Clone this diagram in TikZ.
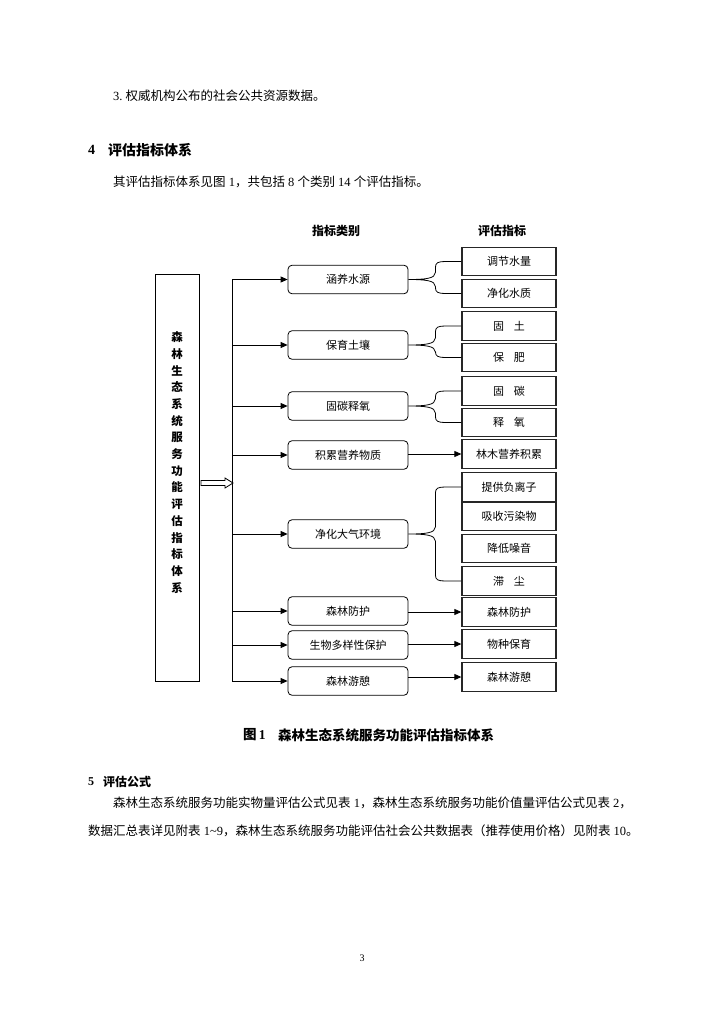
\documentclass[tikz,border=0pt]{standalone}
\usepackage{fontspec}
\setmainfont{Liberation Serif}
\newfontfamily\cjk{Noto Sans CJK SC}
\usetikzlibrary{arrows.meta,calc}
\newcommand\zh[1]{{\cjk #1}}
\newcommand\mybrace[3]{%
  \draw[line width=0.8pt] let \p1=(#1.east), \p2=(#2.west), \p3=(#3.west) in
    (\p1) .. controls (\x1+17,\y1) and (\x1+27,\y1+1) .. (\x1+27,\y1+7)
      -- (\x1+27,\y2-6) .. controls (\x1+27,\y2-1) and (\x1+30,\y2) .. (\x1+37,\y2) -- (\p2)
    (\p1) .. controls (\x1+17,\y1) and (\x1+27,\y1-1) .. (\x1+27,\y1-7)
      -- (\x1+27,\y3+6) .. controls (\x1+27,\y3+1) and (\x1+30,\y3) .. (\x1+37,\y3) -- (\p3);}
\begin{document}
\begin{tikzpicture}[x=1pt,y=-1pt,
  txt/.style={anchor=west, inner sep=0, font=\fontsize{12.5}{15}\selectfont},
  hd/.style={anchor=west, inner sep=0, font=\bfseries\fontsize{14}{16}\selectfont},
  hdb/.style={anchor=west, inner sep=0, font=\bfseries\fontsize{12}{14}\selectfont},
  capt/.style={anchor=west, inner sep=0, font=\bfseries\fontsize{13.5}{15}\selectfont},
  cat/.style={draw, rounded corners=4pt, minimum width=120pt, minimum height=28.5pt, inner sep=0, line width=0.8pt, font=\cjk\fontsize{11}{12}\selectfont},
  ind/.style={draw=black!85, line width=1.3pt, minimum width=94pt, minimum height=28.5pt, inner sep=0, font=\cjk\fontsize{11}{12}\selectfont},
  colhead/.style={inner sep=0, font=\cjk\bfseries\fontsize{12}{14}\selectfont},
  arr/.style={-{Triangle[length=7pt,width=6pt]}, line width=0.8pt}]
\useasboundingbox (0,0) rectangle (724,1024);
\fill[white] (0,0) rectangle (724,1024);

% text above
\node[txt] (l1) at (113,96) {3.\ \zh{权威机构公布的社会公共资源数据。}};
\node[hd] (h4n) at (88,150) {4};
\node[hd] (h4t) at (108,150) {\zh{评估指标体系}};
\node[txt] (p1) at (113,182) {\zh{其评估指标体系见图} 1\zh{，共包括} 8 \zh{个类别} 14 \zh{个评估指标。}};

% headers
\node[colhead] (hc) at (336,231) {指标类别};
\node[colhead] (hi) at (502,231) {评估指标};

% left box
\node[draw, line width=0.8pt, minimum width=44pt, minimum height=407pt, inner sep=0] (L) at (177,477.5) {};
\node[align=center, inner sep=0, font=\cjk\bfseries\fontsize{11.5}{16.7}\selectfont] (Lt) at (177,462.5)
  {森\\林\\生\\态\\系\\统\\服\\务\\功\\能\\评\\估\\指\\标\\体\\系};

% hollow arrow
\draw[line width=0.8pt, fill=white] (201,480.5) -- (225,480.5) -- (225,478) -- (233,483) -- (225,488) -- (225,485.5) -- (201,485.5) -- cycle;

% category boxes
\node[cat] (c1) at (348,279.5) {涵养水源};
\node[cat] (c2) at (348,345) {保育土壤};
\node[cat] (c3) at (348,406) {固碳释氧};
\node[cat] (c4) at (348,455) {积累营养物质};
\node[cat] (c5) at (348,534) {净化大气环境};
\node[cat] (c6) at (348,611) {森林防护};
\node[cat] (c7) at (348,645) {生物多样性保护};
\node[cat] (c8) at (348,681) {森林游憩};

% indicator boxes
\node[ind] (r1) at (509,261.5) {调节水量};
\node[ind] (r2) at (509,293.5) {净化水质};
\node[ind] (r3) at (509,326) {固\hspace{0.9em}土};
\node[ind] (r4) at (509,357.5) {保\hspace{0.9em}肥};
\node[ind] (r5) at (509,391) {固\hspace{0.9em}碳};
\node[ind] (r6) at (509,422.5) {释\hspace{0.9em}氧};
\node[ind] (r7) at (509,454) {林木营养积累};
\node[ind] (r8) at (509,487) {提供负离子};
\node[ind] (r9) at (509,516.5) {吸收污染物};
\node[ind] (r10) at (509,548.5) {降低噪音};
\node[ind] (r11) at (509,581) {滞\hspace{0.9em}尘};
\node[ind] (r12) at (509,612) {森林防护};
\node[ind] (r13) at (509,644) {物种保育};
\node[ind] (r14) at (509,677) {森林游憩};

% trunk
\coordinate (T) at (232,0);
\draw[line width=0.8pt] (c1.west -| T) -- (c8.west -| T);
\foreach \c in {c1,c2,c3,c4,c5,c6,c7,c8}
  \draw[arr] (\c.west -| T) -- (\c.west);

% single arrows
\draw[arr] (c4.east |- r7.west) -- (r7.west);
\draw[arr] (c6.east |- r12.west) -- (r12.west);
\draw[arr] (c7.east |- r13.west) -- (r13.west);
\draw[arr] (c8.east |- r14.west) -- (r14.west);

% braces
\mybrace{c1}{r1}{r2}
\mybrace{c2}{r3}{r4}
\mybrace{c3}{r5}{r6}
\mybrace{c5}{r8}{r11}

% caption
\node[capt] (capn) at (243,735) {\zh{图}\,1};
\node[capt] (capt) at (278,735) {\zh{森林生态系统服务功能评估指标体系}};

% section 5
\node[hdb] (h5n) at (88,782) {5};
\node[hdb] (h5t) at (103,782) {\zh{评估公式}};
\node[txt] (b1) at (113,803) {\zh{森林生态系统服务功能实物量评估公式见表} 1\zh{，森林生态系统服务功能价值量评估公式见表} 2\zh{，}};
\node[txt] (b2) at (88,831) {\zh{数据汇总表详见附表} 1\textasciitilde 9\zh{，森林生态系统服务功能评估社会公共数据表（推荐使用价格）见附表} 10\zh{。}};

\node[inner sep=0, font=\fontsize{10}{12}\selectfont] (pg) at (362,958) {3};
\end{tikzpicture}
\end{document}
